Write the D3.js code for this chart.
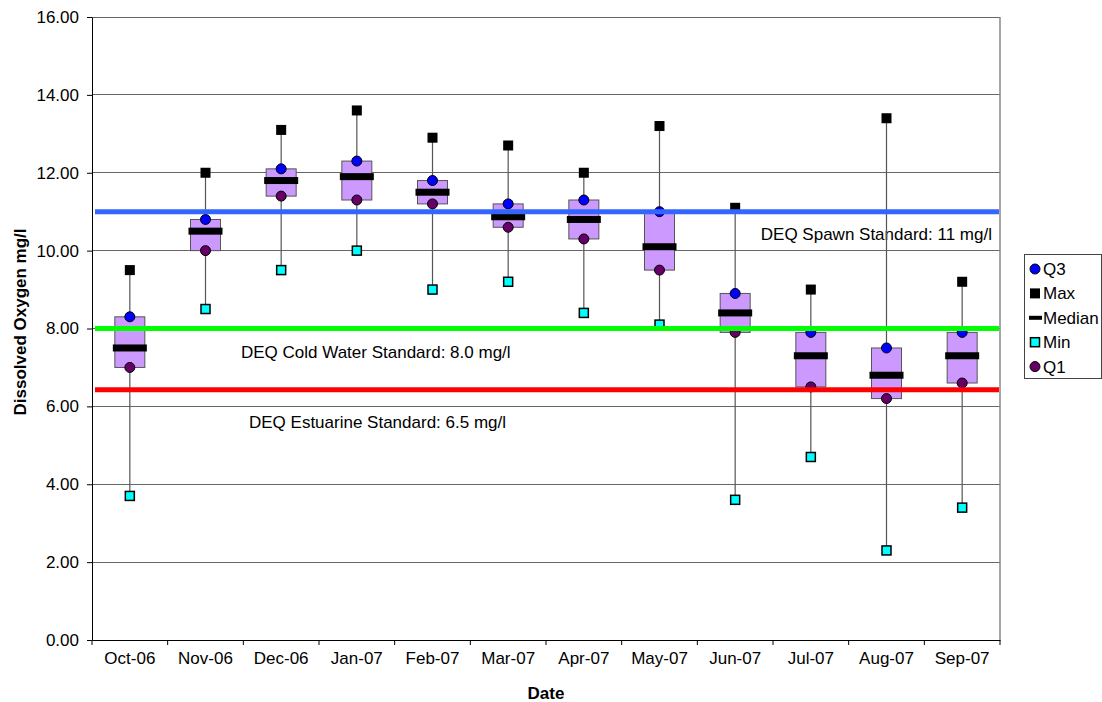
<!DOCTYPE html>
<html>
<head>
<meta charset="utf-8">
<script src="https://cdn.jsdelivr.net/npm/d3@7/dist/d3.min.js"></script>
<style>
  body { margin: 0; background: #fff; }
  svg { display: block; font-family: "Liberation Sans", Arial, sans-serif; }
</style>
</head>
<body>
<div id="chart"></div>
<script>
// Monthly dissolved oxygen summary (mg/l)
const months = ["Oct-06", "Nov-06", "Dec-06", "Jan-07", "Feb-07", "Mar-07",
  "Apr-07", "May-07", "Jun-07", "Jul-07", "Aug-07", "Sep-07"];
const maxVals = [9.5, 12.0, 13.1, 13.6, 12.9, 12.7, 12.0, 13.2, 11.1, 9.0, 13.4, 9.2];
const q3Vals = [8.3, 10.8, 12.1, 12.3, 11.8, 11.2, 11.3, 11.0, 8.9, 7.9, 7.5, 7.9];
const medianVals = [7.5, 10.5, 11.8, 11.9, 11.5, 10.87, 10.8, 10.1, 8.4, 7.3, 6.8, 7.3];
const q1Vals = [7.0, 10.0, 11.4, 11.3, 11.2, 10.6, 10.3, 9.5, 7.9, 6.5, 6.2, 6.6];
const minVals = [3.7, 8.5, 9.5, 10.0, 9.0, 9.2, 8.4, 8.1, 3.6, 4.7, 2.3, 3.4];

const yTicks = [0, 2, 4, 6, 8, 10, 12, 14, 16];

// DEQ standards drawn as horizontal lines
const standardNames = ["DEQ Spawn Standard: 11 mg/l", "DEQ Cold Water Standard: 8.0 mg/l", "DEQ Estuarine Standard: 6.5 mg/l"];
const standardVals = [11.0, 8.0, 6.43];
const standardColors = ["#3366ff", "#00ff00", "#ff0000"];

const legendNames = ["Q3", "Max", "Median", "Min", "Q1"];

const W = 1102, H = 702;
const margin = { top: 17, right: 102, bottom: 62, left: 92 };
const width = W - margin.left - margin.right;
const height = H - margin.top - margin.bottom;

const svg = d3.select("#chart").append("svg")
  .attr("width", W).attr("height", H);

const g = svg.append("g")
  .attr("transform", `translate(${margin.left},${margin.top})`);

const x = d3.scaleBand().domain(months).range([0, width]);
const y = d3.scaleLinear().domain([0, 16]).range([height, 0]);

// gridlines
g.append("g")
  .selectAll("line")
  .data(yTicks.filter(d => d > 0))
  .enter().append("line")
  .attr("x1", 0).attr("x2", width)
  .attr("y1", d => y(d)).attr("y2", d => y(d))
  .attr("stroke", "#666").attr("stroke-width", 1)
  .attr("shape-rendering", "crispEdges");

// plot border on the right
g.append("line")
  .attr("x1", width).attr("x2", width)
  .attr("y1", 0).attr("y2", height)
  .attr("stroke", "#888").attr("stroke-width", 1.5);

// y axis
const yAxis = g.append("g")
  .call(d3.axisLeft(y).tickValues(yTicks).tickSize(5).tickSizeOuter(0).tickFormat(d3.format(".2f")));
yAxis.select(".domain").attr("stroke", "#000");
yAxis.selectAll(".tick line").attr("stroke", "#000");
yAxis.selectAll("text")
  .attr("x", -13)
  .attr("font-size", "17px")
  .attr("font-family", "Liberation Sans, Arial, sans-serif")
  .attr("fill", "#000");

// x axis, ticks at the category boundaries
const xAxis = g.append("g")
  .attr("transform", `translate(0,${height})`)
  .call(d3.axisBottom(x).tickSize(0).tickSizeOuter(0));
xAxis.select(".domain").attr("stroke", "#000");
xAxis.selectAll("text")
  .attr("y", 24)
  .attr("dy", 0)
  .attr("font-size", "17px")
  .attr("font-family", "Liberation Sans, Arial, sans-serif")
  .attr("fill", "#000");
xAxis.selectAll(".bound")
  .data(d3.range(months.length + 1))
  .enter().append("line")
  .attr("x1", i => i * x.step()).attr("x2", i => i * x.step())
  .attr("y1", 0).attr("y2", 5)
  .attr("stroke", "#000");

// axis titles
svg.append("text")
  .attr("x", margin.left + width / 2)
  .attr("y", 699)
  .attr("text-anchor", "middle")
  .attr("font-size", "17px")
  .attr("font-weight", "bold")
  .text("Date");

svg.append("text")
  .attr("transform", "translate(26,322) rotate(-90)")
  .attr("text-anchor", "middle")
  .attr("font-size", "17px")
  .attr("font-weight", "bold")
  .text("Dissolved Oxygen mg/l");

// standard labels (under the marks)
const labelPos = [
  { x: width - 8, dy: 28, anchor: "end" },
  { x: 241 - margin.left, dy: 29, anchor: "start" },
  { x: 249 - margin.left, dy: 38, anchor: "start" }
];
g.selectAll(".stdLabel")
  .data(standardNames)
  .enter().append("text")
  .attr("x", (d, i) => labelPos[i].x)
  .attr("y", (d, i) => y(standardVals[i]) + labelPos[i].dy)
  .attr("text-anchor", (d, i) => labelPos[i].anchor)
  .attr("font-size", "17px")
  .attr("fill", "#000")
  .text(d => d);

const cx = d => x(d) + x.bandwidth() / 2;
const boxW = 30, medW = 34;

// whiskers
g.selectAll(".whisker")
  .data(months)
  .enter().append("line")
  .attr("x1", cx).attr("x2", cx)
  .attr("y1", (d, i) => y(maxVals[i]))
  .attr("y2", (d, i) => y(minVals[i]))
  .attr("stroke", "#555").attr("stroke-width", 1.2);

// boxes Q1..Q3
g.selectAll(".box")
  .data(months)
  .enter().append("rect")
  .attr("x", d => cx(d) - boxW / 2)
  .attr("y", (d, i) => y(q3Vals[i]))
  .attr("width", boxW)
  .attr("height", (d, i) => y(q1Vals[i]) - y(q3Vals[i]))
  .attr("fill", "#cc99ff")
  .attr("stroke", "#555").attr("stroke-width", 1);

// median bars
g.selectAll(".median")
  .data(months)
  .enter().append("rect")
  .attr("x", d => cx(d) - medW / 2)
  .attr("y", (d, i) => y(medianVals[i]) - 3.5)
  .attr("width", medW).attr("height", 7)
  .attr("fill", "#000");

// max squares
g.selectAll(".max")
  .data(months)
  .enter().append("rect")
  .attr("x", d => cx(d) - 5)
  .attr("y", (d, i) => y(maxVals[i]) - 5)
  .attr("width", 10).attr("height", 10)
  .attr("fill", "#000");

// min squares
g.selectAll(".min")
  .data(months)
  .enter().append("rect")
  .attr("x", d => cx(d) - 4.5)
  .attr("y", (d, i) => y(minVals[i]) - 4.5)
  .attr("width", 9).attr("height", 9)
  .attr("fill", "#00ffff")
  .attr("stroke", "#000").attr("stroke-width", 1.5);

// Q3 and Q1 dots
g.selectAll(".q3")
  .data(months)
  .enter().append("circle")
  .attr("cx", cx)
  .attr("cy", (d, i) => y(q3Vals[i]))
  .attr("r", 5)
  .attr("fill", "#0000ff")
  .attr("stroke", "#000").attr("stroke-width", 1);

g.selectAll(".q1")
  .data(months)
  .enter().append("circle")
  .attr("cx", cx)
  .attr("cy", (d, i) => y(q1Vals[i]))
  .attr("r", 5)
  .attr("fill", "#660066")
  .attr("stroke", "#000").attr("stroke-width", 1);

// standard lines on top
g.selectAll(".std")
  .data(standardVals)
  .enter().append("line")
  .attr("x1", 3).attr("x2", width - 1)
  .attr("y1", d => y(d)).attr("y2", d => y(d))
  .attr("stroke", (d, i) => standardColors[i])
  .attr("stroke-width", 5);

// legend
const legend = svg.append("g").attr("transform", "translate(1024,254)");
legend.append("rect")
  .attr("x", 0.5).attr("y", 0.5)
  .attr("width", 77).attr("height", 124)
  .attr("fill", "#fff")
  .attr("stroke", "#444");

const item = legend.selectAll(".item")
  .data(legendNames)
  .enter().append("g")
  .attr("transform", (d, i) => `translate(11,${15 + i * 24.4})`);

item.append("text")
  .attr("x", 8)
  .attr("y", 6)
  .attr("font-size", "17px")
  .text(d => d);

item.each(function (d) {
  const s = d3.select(this);
  if (d === "Q3" || d === "Q1") {
    s.append("circle").attr("r", 5)
      .attr("fill", d === "Q3" ? "#0000ff" : "#660066")
      .attr("stroke", "#000");
  } else if (d === "Max") {
    s.append("rect").attr("x", -5).attr("y", -5).attr("width", 10).attr("height", 10).attr("fill", "#000");
  } else if (d === "Min") {
    s.append("rect").attr("x", -4.5).attr("y", -4.5).attr("width", 9).attr("height", 9)
      .attr("fill", "#00ffff").attr("stroke", "#000").attr("stroke-width", 1.5);
  } else {
    s.append("rect").attr("x", -6).attr("y", -2).attr("width", 13).attr("height", 4).attr("fill", "#000");
  }
});
</script>
</body>
</html>
